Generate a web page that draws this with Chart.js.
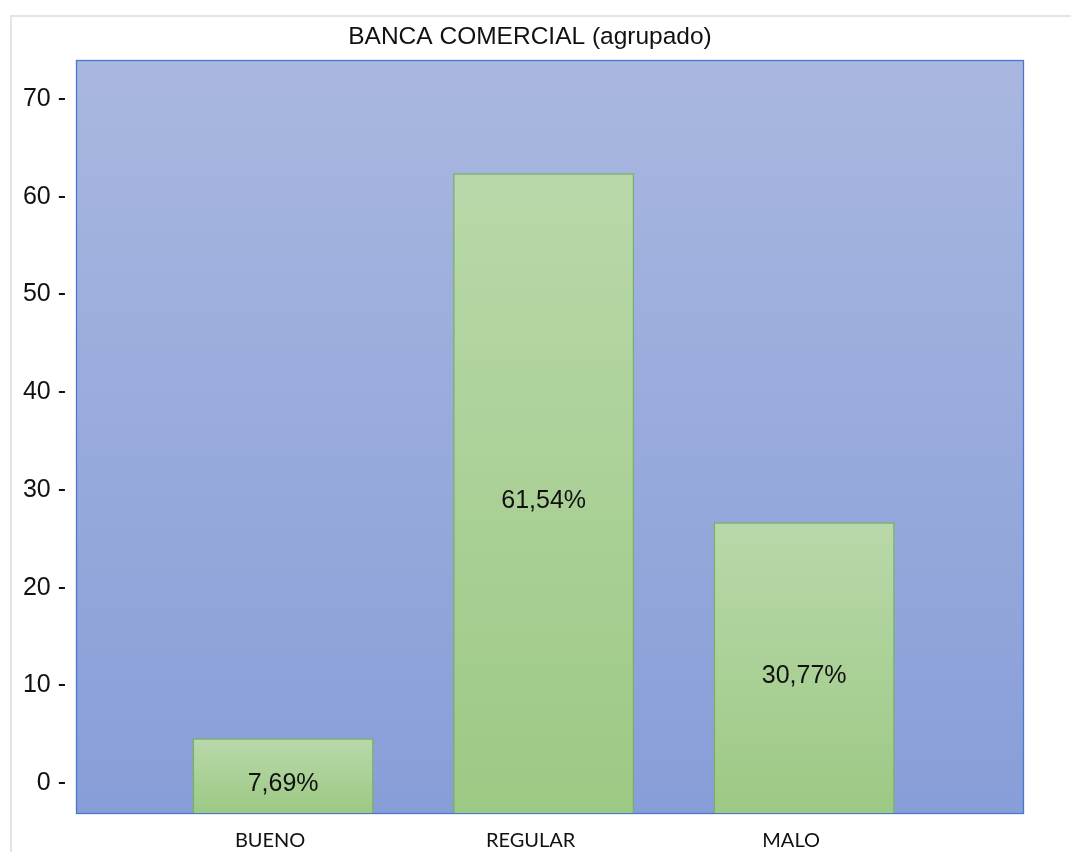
<!DOCTYPE html>
<html>
<head>
<meta charset="utf-8">
<script src="https://cdn.jsdelivr.net/npm/chart.js@4/dist/chart.umd.min.js"></script>
<style>
  body { margin: 0; background: #fff; }
  #wrap { position: relative; width: 1071px; height: 852px; }
</style>
</head>
<body>
<div id="wrap"><canvas id="chartCanvas" width="1071" height="852"></canvas></div>
<script>
const titleText = 'BANCA COMERCIAL (agrupado)';
const categories = ['BUENO', 'REGULAR', 'MALO'];
const values = [4.6, 62.4, 26.7];
const pctLabels = ['7,69%', '61,54%', '30,77%'];
const yTicks = [0, 10, 20, 30, 40, 50, 60, 70];
const yMin = -3.05;
const yMax = 74;
const xMin = -0.795;
const xMax = 2.84;

const sansFont = '"Liberation Sans", Arial, sans-serif';

function barGradient(context){
    const chart = context.chart;
    const area = chart.chartArea;
    if(!area || context.raw === undefined) return '#a8cf92';
    const y = chart.scales.y;
    const top = y.getPixelForValue(context.raw.y);
    const bottom = y.getPixelForValue(yMin);
    const g = chart.ctx.createLinearGradient(0, top, 0, bottom);
    g.addColorStop(0, '#b9d8aa');
    g.addColorStop(1, '#9cc984');
    return g;
}

const plotBackground = {
    id: 'plotBackground',
    beforeDraw(chart){
        const c = chart.ctx;
        c.save();
        c.strokeStyle = '#e4e4e4';
        c.lineWidth = 2;
        c.strokeRect(11, 16, 1200, 1000);
        c.restore();
    },
    beforeDatasetsDraw(chart){
        const c = chart.ctx, a = chart.chartArea;
        c.save();
        const g = c.createLinearGradient(0, a.top, 0, a.bottom);
        g.addColorStop(0, '#a9b7e0');
        g.addColorStop(1, '#889ed8');
        c.fillStyle = g;
        c.fillRect(a.left, a.top, a.right - a.left, a.bottom - a.top);
        c.strokeStyle = '#4a78cc';
        c.lineWidth = 1.3;
        c.strokeRect(a.left + 0.5, a.top + 0.5, a.right - a.left, a.bottom - a.top);
        c.restore();
    },
    afterDatasetsDraw(chart){
        const c = chart.ctx;
        c.save();
        c.font = '25px ' + sansFont;
        c.fillStyle = '#111';
        c.textAlign = 'center';
        c.textBaseline = 'middle';
        chart.getDatasetMeta(0).data.forEach((bar, i) => {
            c.fillText(pctLabels[i], bar.x, (bar.y + bar.base) / 2 + 8);
        });
        c.restore();
    },
    afterDraw(chart){
        const c = chart.ctx;
        c.save();
        c.font = '24.5px ' + sansFont;
        c.fillStyle = '#111';
        c.textAlign = 'center';
        c.textBaseline = 'middle';
        c.fillText(titleText, 530, 37);
        c.restore();
    }
};

const ctx = document.getElementById('chartCanvas').getContext('2d');
const chart = new Chart(ctx, {
    type: 'bar',
    data: {
        datasets: [{
            data: values.map((v, i) => ({ x: i, y: v })),
            backgroundColor: barGradient,
            borderColor: '#78b359',
            borderWidth: 1.5,
            base: yMin,
            categoryPercentage: 1,
            barPercentage: 0.695
        }]
    },
    options: {
        responsive: false,
        animation: false,
        layout: { padding: { top: 60, left: 0, right: 48, bottom: 0 } },
        plugins: { legend: { display: false }, tooltip: { enabled: false } },
        scales: {
            x: {
                type: 'linear',
                min: xMin,
                max: xMax,
                offset: false,
                grid: { display: false, drawTicks: false },
                border: { display: false },
                afterBuildTicks: s => { s.ticks = categories.map((c, i) => ({ value: i })); },
                afterFit: s => { s.height = 39; },
                ticks: {
                    padding: 16,
                    labelOffset: -13,
                    color: '#111',
                    font: { family: 'Lato, "Open Sans", sans-serif', size: 20 },
                    maxRotation: 0,
                    autoSkip: false,
                    callback: v => categories[v]
                }
            },
            y: {
                min: yMin,
                max: yMax,
                grid: { display: false, drawTicks: false },
                border: { display: false },
                afterBuildTicks: s => { s.ticks = yTicks.map(v => ({ value: v })); },
                afterFit: s => { s.width = 76; },
                ticks: {
                    padding: 10,
                    color: '#111',
                    font: { family: sansFont, size: 25 },
                    callback: v => v + ' -'
                }
            }
        }
    },
    plugins: [plotBackground]
});
</script>
</body>
</html>
